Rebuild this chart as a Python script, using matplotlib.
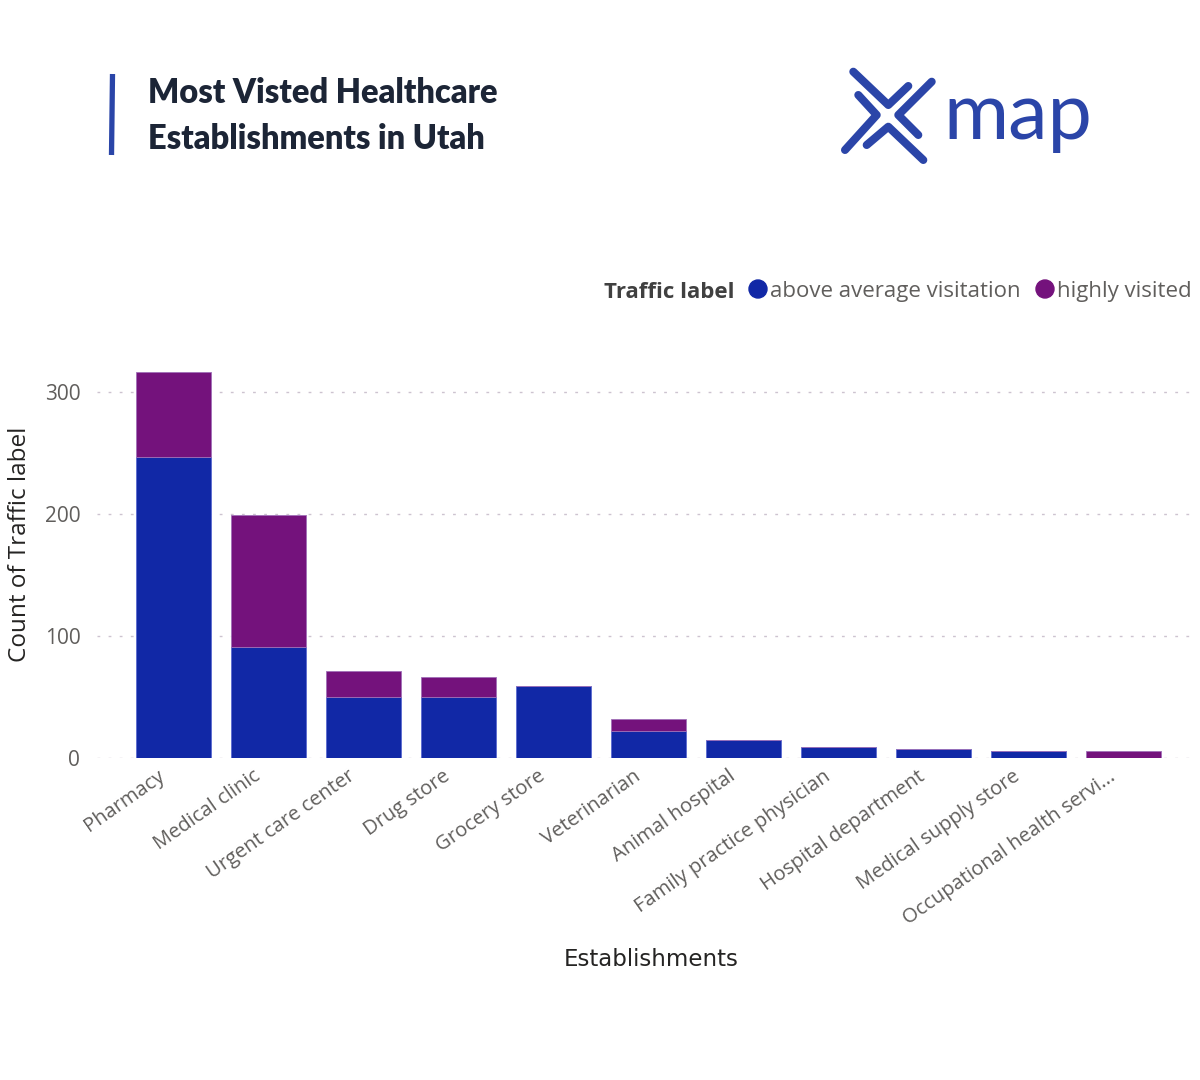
import matplotlib
matplotlib.use("Agg")
import matplotlib.pyplot as plt
import matplotlib.transforms as mtrans
import numpy as np
from matplotlib.lines import Line2D

categories = ["Pharmacy", "Medical clinic", "Urgent care center", "Drug store",
              "Grocery store", "Veterinarian", "Animal hospital",
              "Family practice physician", "Hospital department",
              "Medical supply store", "Occupational health servi..."]
above_avg = [247, 91, 50, 50, 59, 22, 15, 9, 7, 6, 0]
highly = [69, 108, 21, 16, 0, 10, 0, 0, 0, 0, 6]
series_names = ["above average visitation", "highly visited"]
yticks = [0, 100, 200, 300]

BLUE = "#1128A6"
PURPLE = "#74127C"
GREY = "#605E5C"
DARK = "#252423"

W, H = 1200, 1080
fig = plt.figure(figsize=(12, 10.8), dpi=100)
fig.patch.set_facecolor("white")

def fx(px):
    return px / W

def fy(py):
    return 1 - py / H

# main axes
left, right = 97, 1195
bottom, top = 758, 355.4
ax = fig.add_axes([fx(left), fy(bottom), fx(right - left), (bottom - top) / H])
x = np.arange(len(categories))
ax.bar(x, above_avg, width=0.79, color=BLUE, edgecolor="#5A6AD0", linewidth=0.6, zorder=3)
ax.bar(x, highly, width=0.79, bottom=above_avg, color=PURPLE, edgecolor="#A070B8", linewidth=0.6, zorder=3)
ax.set_xlim(-0.805, 10.75)
ax.set_ylim(0, 330)
ax.set_yticks(yticks)
ax.set_yticklabels([str(v) for v in yticks], fontsize=15, color=GREY, family="Open Sans")
ax.tick_params(axis="y", length=0, pad=12)
ax.yaxis.grid(True, linestyle=(0, (2, 6)), color="#CDC3D0", linewidth=1.0, zorder=0)
ax.set_axisbelow(True)
for s in ax.spines.values():
    s.set_visible(False)
ax.set_xticks(x)
ax.set_xticklabels(categories, rotation=35, ha="right", va="top", rotation_mode="anchor",
                   fontsize=14.5, color=GREY, family="Open Sans")
ax.tick_params(axis="x", length=0, pad=6)
offset = mtrans.ScaledTranslation(-16 / 100, 0, fig.dpi_scale_trans)
for lbl in ax.get_xticklabels():
    lbl.set_transform(lbl.get_transform() + offset)

fig.text(fx(20), fy(544), "Count of Traffic label", rotation=90, ha="center", va="center",
         fontsize=17.5, color=DARK, family="Open Sans")
fig.text(fx(651), fy(959), "Establishments", ha="center", va="center",
         fontsize=16.5, color=DARK, family="DejaVu Sans")

# legend
ov = fig.add_axes([0, 0, 1, 1], zorder=5)
ov.set_xlim(0, W)
ov.set_ylim(H, 0)
ov.axis("off")
ov.patch.set_alpha(0)
ov.text(604, 292, "Traffic label", ha="left", va="center", fontsize=16,
        fontweight="bold", color="#404040", family="Open Sans")
leg_x = [758, 1045]
for cx, col, name in zip(leg_x, [BLUE, PURPLE], series_names):
    ov.add_patch(plt.Circle((cx, 289), 9, color=col))
    ov.text(cx + 12, 292, name, ha="left", va="center", fontsize=16, color=GREY, family="Open Sans")

# title
ov.add_line(Line2D([112.5, 111.5], [74, 155], color="#2A45A8", linewidth=3.8, solid_capstyle="butt"))
ov.text(148, 93, "Most Visted Healthcare", ha="left", va="center", fontsize=23.5,
        fontweight="heavy", color="#1C2536", family="Lato")
ov.text(148, 139, "Establishments in Utah", ha="left", va="center", fontsize=23.5,
        fontweight="heavy", color="#1C2536", family="Lato")

# logo
LOGO = "#2B45A8"
chevrons = [
    [(853.3, 71.7), (888.3, 105), (908.3, 86)],
    [(931.7, 81.7), (898.3, 115), (918.3, 135)],
    [(866.7, 145), (888.3, 126.7), (923.3, 160)],
    [(858.3, 95), (876.7, 115), (845, 150)],
]
for ch in chevrons:
    xs, ys = zip(*ch)
    ov.add_line(Line2D(xs, ys, color=LOGO, linewidth=5.8, solid_capstyle="round",
                       solid_joinstyle="round"))
ov.text(943, 117, "map", ha="left", va="center", fontsize=57, color=LOGO, family="Lato")

fig.savefig("out.png", dpi=100, facecolor="white")
